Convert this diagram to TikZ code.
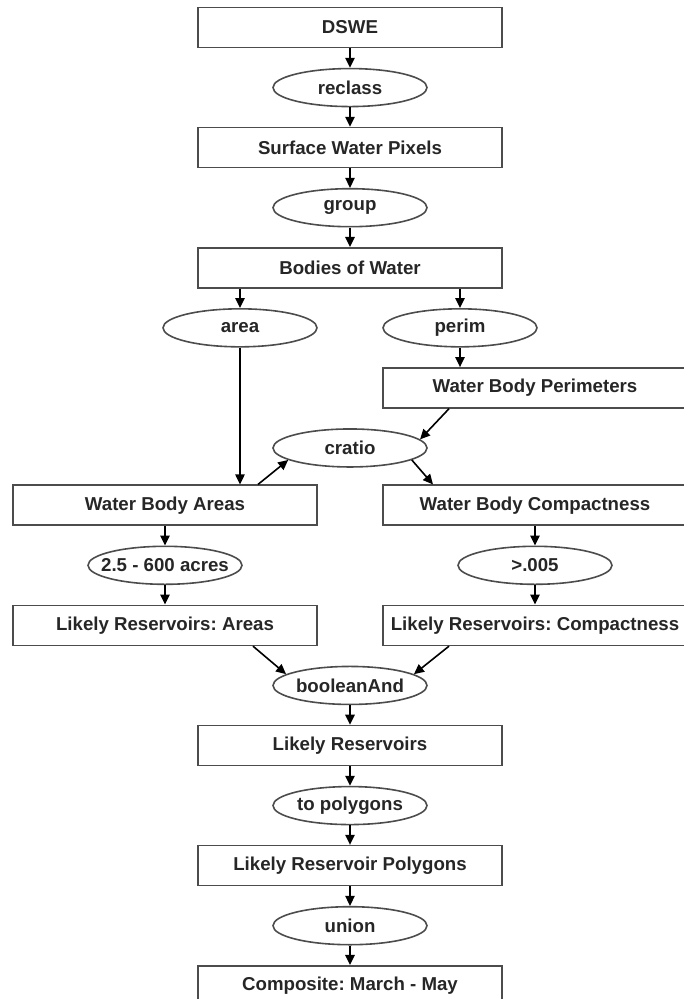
\documentclass[tikz,border=0pt]{standalone}
\usepackage{fontspec}
\setmainfont{Liberation Sans}
\usetikzlibrary{arrows.meta}
\usetikzlibrary{positioning}
\usetikzlibrary{shapes.geometric}

\begin{document}
\begin{tikzpicture}[
	font=\fontsize{14}{16}\selectfont\bfseries\frenchspacing,
	box/.style={rectangle,draw=black!70,line width=1.2pt,text=black!85,
		minimum width=228pt,minimum height=30pt,inner sep=0pt},
	op/.style={ellipse,draw=black!70,line width=1.2pt,text=black!85,
		minimum width=115.5pt,minimum height=28.5pt,inner xsep=-8pt,inner ysep=0pt},
	flow/.style={line width=1.2pt,-{Triangle[length=7.5pt,width=7pt]}},
	node distance = 14.6pt and 14.6pt]

	% page frame
	\useasboundingbox (-262.5pt,20.625pt) rectangle (250.5pt,-728.625pt);

	% main column (top)
	\node[box] (DSWE) at (0,0) {DSWE};
	\node[op,below = of DSWE] (recl) {reclass};
	\node[box,below = of recl] (SWP) {Surface Water Pixels};
	\node[op,below = of SWP] (grp) {group};
	\node[box,below = of grp] (BoW) {Bodies of Water};

	% area / perim branches
	\node[op,below = of BoW,xshift=-82.5pt] (area) {area};
	\node[op,below = of BoW,xshift=82.5pt] (perim) {perim};
	\node[box,below = of perim,xshift=56.25pt] (WBP) {Water Body Perimeters};
	\node[op,below = of WBP,xshift=-138.75pt] (crat) {cratio};
	\node[box,below = 12.5pt of crat,xshift=-138.75pt] (WBA) {Water Body Areas};
	\node[box,below = 12.5pt of crat,xshift=138.75pt] (WBC) {Water Body Compactness};

	% thresholds
	\node[op,below = of WBA] (acr) {2.5 - 600 acres};
	\node[op,below = of WBC] (thr) {>.005};
	\node[box,below = of acr] (LRA) {Likely Reservoirs: Areas};
	\node[box,below = of thr] (LRC) {Likely Reservoirs: Compactness};

	% main column (bottom)
	\node[op,below = of LRA,xshift=138.75pt] (band) {booleanAnd};
	\node[box,below = of band] (LR) {Likely Reservoirs};
	\node[op,below = of LR] (poly) {to polygons};
	\node[box,below = of poly] (LRP) {Likely Reservoir Polygons};
	\node[op,below = of LRP] (uni) {union};
	\node[box,below = of uni] (comp) {Composite: March - May};

	% straight arrows
	\foreach \a/\b in {DSWE/recl, recl/SWP, SWP/grp, grp/BoW, WBA/acr, acr/LRA,
		WBC/thr, thr/LRC, band/LR, LR/poly, poly/LRP, LRP/uni, uni/comp}
	\draw[flow] (\a) -- (\b);

	% branch arrows
	\draw[flow] (BoW.south -| area) -- (area);
	\draw[flow] (BoW.south -| perim) -- (perim);
	\draw[flow] (area) -- (area |- WBA.north);
	\draw[flow] (perim) -- (perim |- WBP.north);

	% cratio links
	\draw[flow] ([xshift=-64.5pt]WBP.south) -- (crat.7);
	\draw[flow] ([xshift=69.75pt]WBA.north) -- (crat.191);
	\draw[flow] (crat.-11) -- ([xshift=-76.5pt]WBC.north);

	% into booleanAnd
	\draw[flow] ([xshift=66pt]LRA.south) -- (band.170);
	\draw[flow] ([xshift=-64.5pt]LRC.south) -- (band.10);

\end{tikzpicture}
\end{document}
